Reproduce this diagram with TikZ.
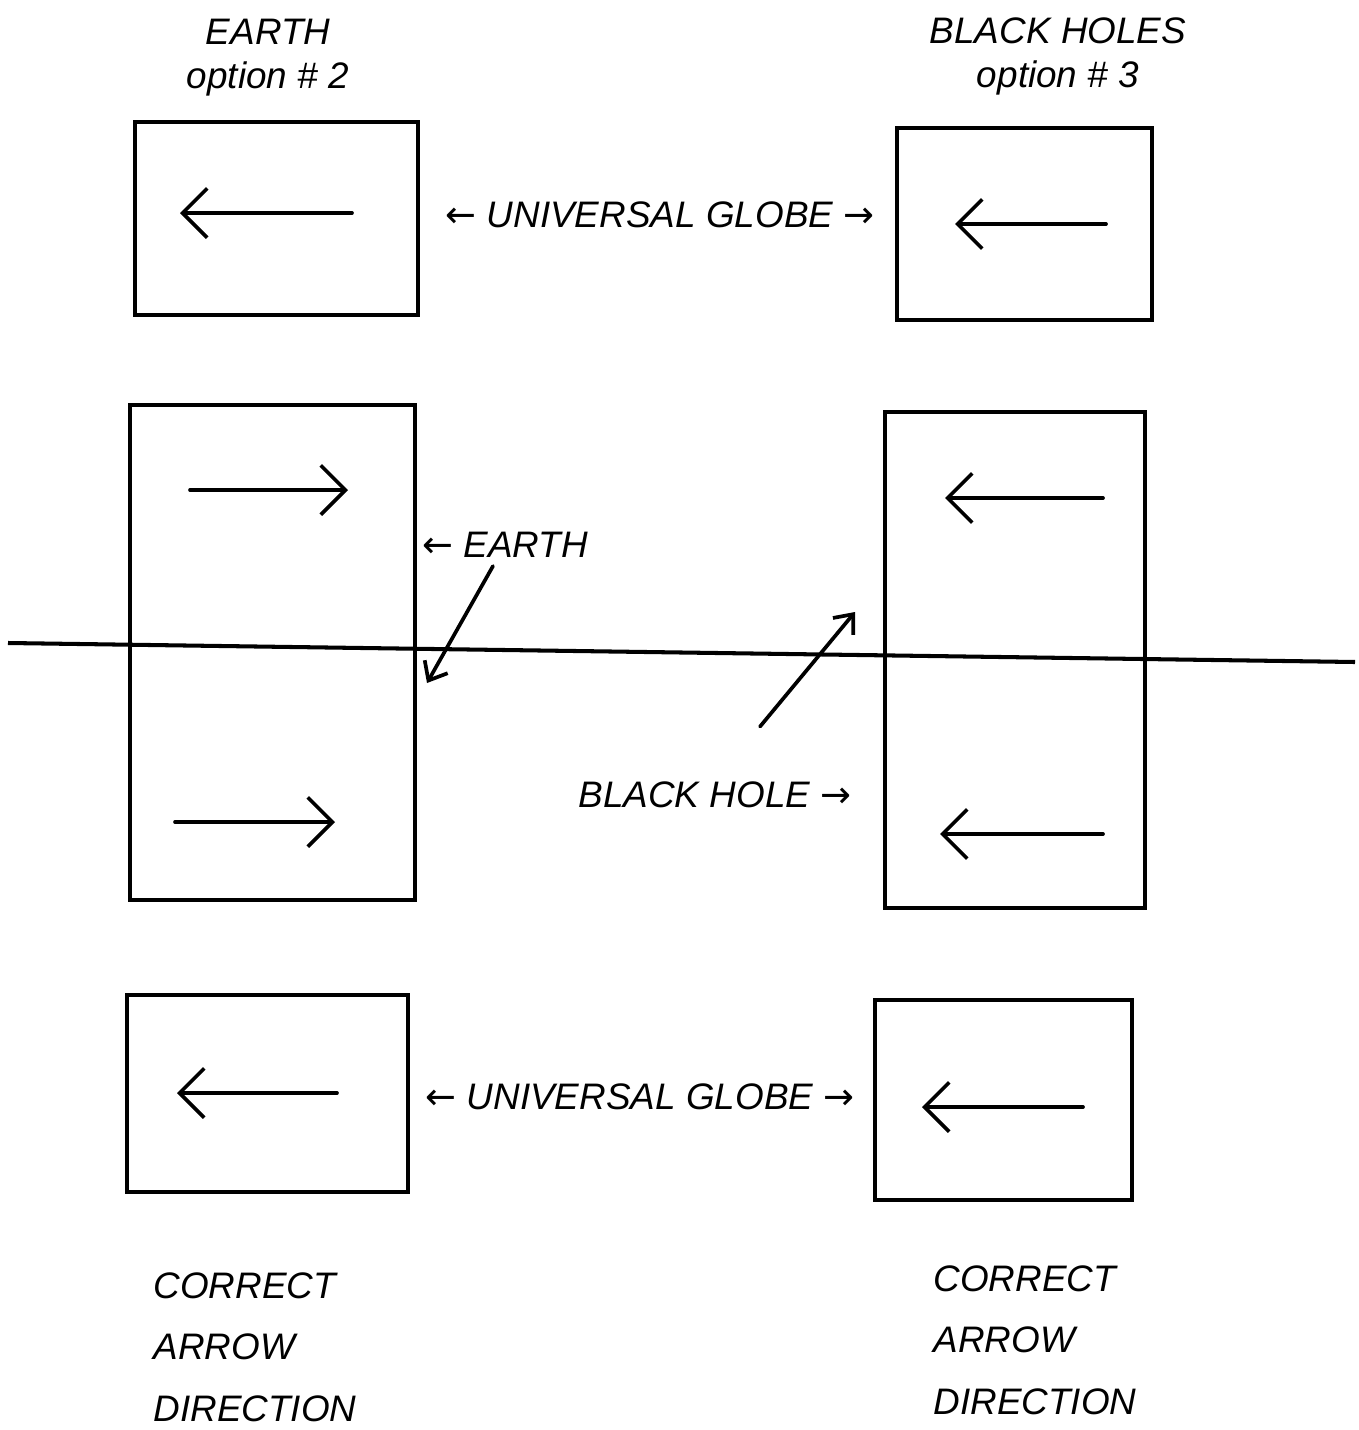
\documentclass[tikz,border=0pt]{standalone}
\usepackage{fontspec}
\setmainfont{Liberation Sans}
\newfontfamily\arrowfont{DejaVu Sans}
\usetikzlibrary{arrows.meta}
\newcommand\la{{\arrowfont ←}}
\newcommand\ra{{\arrowfont →}}
\begin{document}
\begin{tikzpicture}[x=0.02cm,y=-0.02cm,
  box/.style={draw,line width=2.3pt,inner sep=0pt},
  dirarrow/.style={line width=2.1pt,line cap=round,-{Straight Barb[length=14pt,width=28pt,line width=2.1pt]}},
  pointer/.style={line width=2.1pt,line cap=round,-{Straight Barb[length=9pt,width=15pt,line width=2.1pt]}},
  hand/.style={font=\fontsize{21}{25}\selectfont\itshape,align=left,inner sep=0pt},
  handc/.style={font=\fontsize{21}{25}\selectfont\itshape,align=center,inner sep=0pt},
  caption/.style={font=\fontsize{21}{35}\selectfont\itshape,align=left,inner sep=0pt}]
\useasboundingbox (0,0) rectangle (1359,1430);

% titles
\node[handc] (titleL) at (268,58) {EARTH\\option \# 2};
\node[handc] (titleR) at (1058,56) {BLACK HOLES\\option \# 3};

% boxes
\node[box,minimum width=5.66cm,minimum height=3.86cm] (TL) at (276.5,218.5) {};
\node[box,minimum width=5.10cm,minimum height=3.84cm] (TR) at (1024.5,224) {};
\node[box,minimum width=5.70cm,minimum height=9.90cm] (ML) at (272.5,652.5) {};
\node[box,minimum width=5.20cm,minimum height=9.92cm] (MR) at (1015,660) {};
\node[box,minimum width=5.62cm,minimum height=3.94cm] (BL) at (267.5,1093.5) {};
\node[box,minimum width=5.14cm,minimum height=4.00cm] (BR) at (1003.5,1100) {};

% direction arrows inside boxes
\coordinate (a1s) at (352,213); \coordinate (a1e) at (180,213);
\coordinate (a2s) at (1106,224); \coordinate (a2e) at (955,224);
\coordinate (a3s) at (190,490); \coordinate (a3e) at (348,490);
\coordinate (a4s) at (175,822); \coordinate (a4e) at (335,822);
\coordinate (a5s) at (1103,498); \coordinate (a5e) at (945,498);
\coordinate (a6s) at (1103,834); \coordinate (a6e) at (940,834);
\coordinate (a7s) at (337,1093); \coordinate (a7e) at (177,1093);
\coordinate (a8s) at (1083,1107); \coordinate (a8e) at (922,1107);
\foreach \i in {1,...,8} \draw[dirarrow] (a\i s) -- (a\i e);

% horizon line
\coordinate (hl) at (8,643); \coordinate (hr) at (1355,662);
\draw[line width=2.3pt] (hl) -- (hr);

% labels
\node[hand] (ug1) at (660,215) {\la\ UNIVERSAL GLOBE \ra};
\node[hand] (ug2) at (640,1097) {\la\ UNIVERSAL GLOBE \ra};
\node[hand] (earth) at (505,545) {\la\ EARTH};
\node[hand] (bh) at (715,795) {BLACK HOLE \ra};

% pointers
\coordinate (ep) at (427,683);
\coordinate (bp) at (855,612);
\draw[pointer] (earth.south) ++(-12,8) -- (ep);
\draw[pointer] (bh.north) ++(45,-55) -- (bp);

% bottom captions
\node[caption] (capL) at (255,1347) {CORRECT\\ARROW\\DIRECTION};
\node[caption] (capR) at (1035,1340) {CORRECT\\ARROW\\DIRECTION};
\end{tikzpicture}
\end{document}
